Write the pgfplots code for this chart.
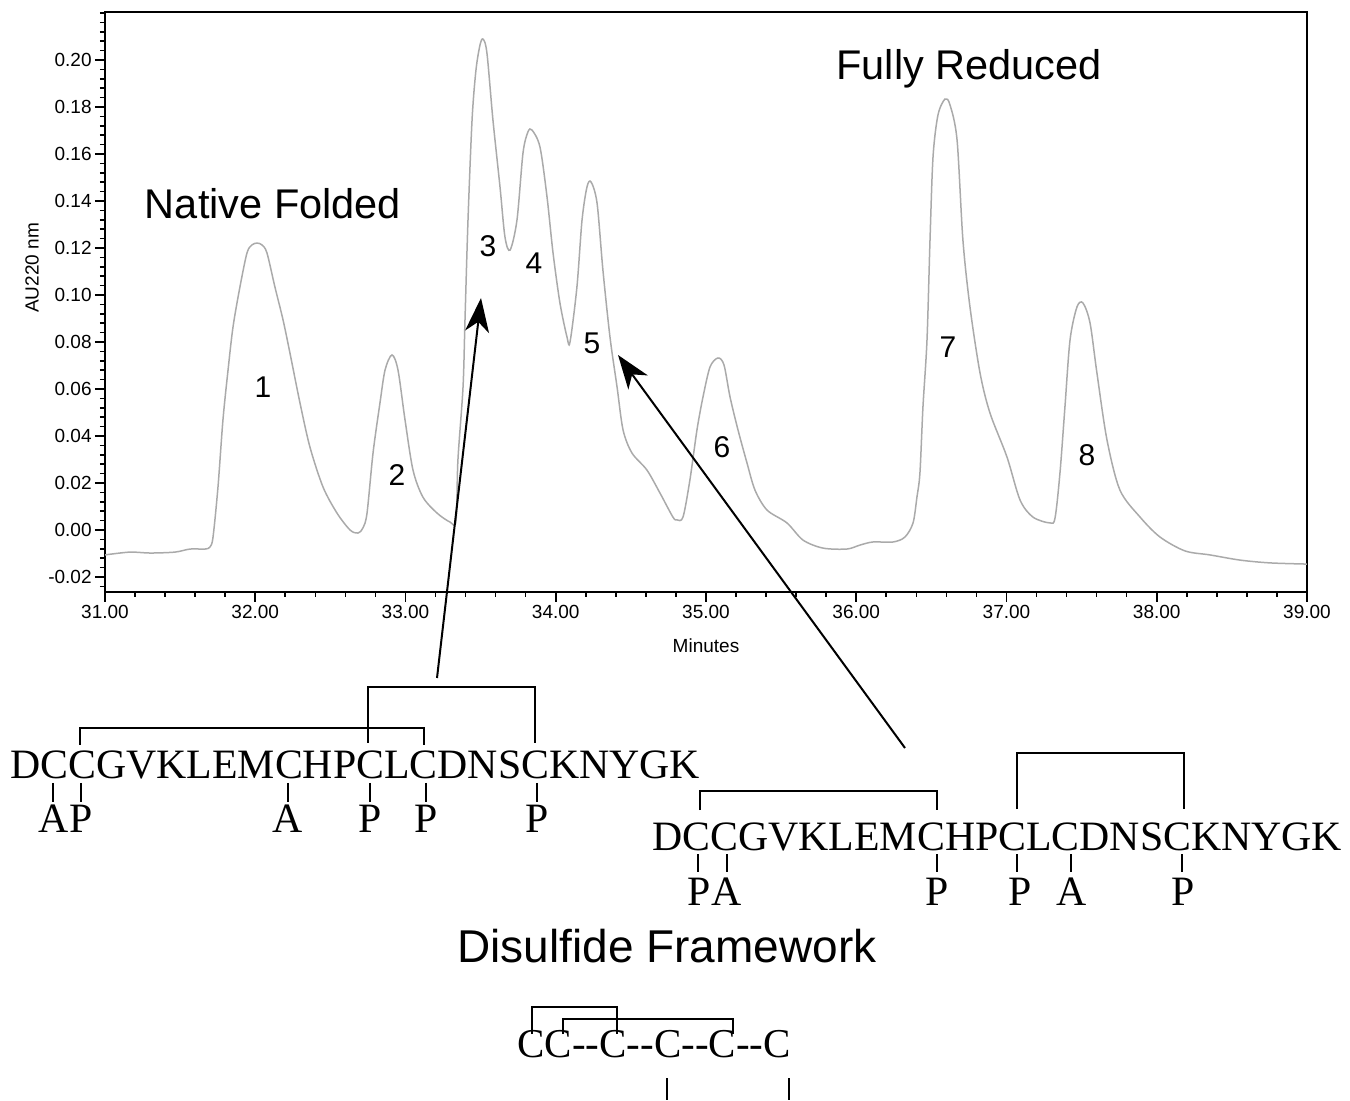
\documentclass[border=0pt]{standalone}
\usepackage{fontspec}
\setmainfont{Liberation Sans}
\newfontfamily\tms{Liberation Serif}
\usepackage{pgfplots}
\pgfplotsset{compat=1.18}
\usetikzlibrary{arrows.meta}
\definecolor{trace}{RGB}{170,170,170}

\pgfplotstableread{
t v
31.000 -0.0106
31.166 -0.0094
31.300 -0.0098
31.466 -0.0094
31.566 -0.0081
31.666 -0.0081
31.699 -0.0072
31.719 -0.0030
31.752 0.0183
31.785 0.0468
31.819 0.0681
31.852 0.0864
31.898 0.1034
31.945 0.1179
31.978 0.1213
32.012 0.1221
32.045 0.1213
32.078 0.1179
32.131 0.1034
32.185 0.0894
32.231 0.0753
32.298 0.0540
32.364 0.0353
32.451 0.0183
32.544 0.0072
32.631 0.0000
32.684 -0.0013
32.717 0.0009
32.744 0.0072
32.784 0.0328
32.830 0.0540
32.864 0.0681
32.910 0.0745
32.950 0.0681
32.997 0.0468
33.050 0.0255
33.116 0.0140
33.210 0.0072
33.296 0.0034
33.336 0.0038
33.349 0.0298
33.383 0.0609
33.396 0.0894
33.416 0.1319
33.443 0.1745
33.469 0.1957
33.496 0.2064
33.516 0.2089
33.542 0.2030
33.582 0.1745
33.629 0.1460
33.662 0.1247
33.696 0.1191
33.742 0.1319
33.782 0.1604
33.815 0.1694
33.842 0.1702
33.895 0.1630
33.942 0.1417
33.982 0.1179
34.028 0.0966
34.075 0.0821
34.095 0.0800
34.141 0.1034
34.175 0.1319
34.208 0.1460
34.235 0.1481
34.275 0.1391
34.314 0.1106
34.361 0.0821
34.408 0.0609
34.448 0.0426
34.507 0.0328
34.607 0.0255
34.694 0.0157
34.780 0.0055
34.807 0.0043
34.847 0.0055
34.893 0.0213
34.940 0.0426
34.980 0.0566
35.027 0.0694
35.080 0.0732
35.120 0.0702
35.160 0.0566
35.213 0.0426
35.273 0.0285
35.326 0.0170
35.406 0.0085
35.539 0.0030
35.646 -0.0043
35.779 -0.0077
35.938 -0.0081
36.025 -0.0064
36.111 -0.0051
36.245 -0.0051
36.324 -0.0030
36.378 0.0030
36.404 0.0140
36.424 0.0243
36.444 0.0523
36.471 0.0809
36.491 0.1234
36.511 0.1587
36.544 0.1766
36.591 0.1834
36.624 0.1809
36.671 0.1660
36.710 0.1234
36.757 0.0949
36.824 0.0668
36.890 0.0498
37.003 0.0311
37.090 0.0128
37.176 0.0055
37.289 0.0030
37.323 0.0051
37.356 0.0243
37.389 0.0523
37.423 0.0809
37.469 0.0949
37.509 0.0966
37.556 0.0881
37.602 0.0668
37.669 0.0383
37.755 0.0170
37.889 0.0055
38.022 -0.0030
38.188 -0.0089
38.354 -0.0106
38.554 -0.0128
38.754 -0.0140
39.000 -0.0145
}\chrom

\begin{document}
\begin{tikzpicture}
\begin{scope}[x=0.5pt,y=-0.5pt]
\useasboundingbox (0,0) rectangle (1350,1100);
\coordinate (sw) at (105,592);
\end{scope}
\begin{axis}[at={(sw)}, anchor=south west, scale only axis,
  width=601pt, height=290pt,
  xmin=31, xmax=39, ymin=-0.02638, ymax=0.22043,
  axis line style={line width=1pt},
  tick align=outside, xtick pos=bottom, ytick pos=left,
  xtick={31,32,33,34,35,36,37,38,39},
  xticklabels={31.00,32.00,33.00,34.00,35.00,36.00,37.00,38.00,39.00},
  minor xtick={31,31.2,...,39},
  ytick={-0.02,0,0.02,0.04,0.06,0.08,0.10,0.12,0.14,0.16,0.18,0.20},
  yticklabels={-0.02,0.00,0.02,0.04,0.06,0.08,0.10,0.12,0.14,0.16,0.18,0.20},
  minor ytick={-0.024,-0.020,...,0.2201},
  major tick length=5pt, minor tick length=2.5pt,
  every tick/.style={line width=0.8pt, black},
  ticklabel style={font=\fontsize{9.5}{11}\selectfont},
  xticklabel style={inner sep=1.5pt},
  yticklabel style={inner sep=1.5pt},
  xlabel={Minutes}, ylabel={AU220 nm},
  label style={font=\fontsize{9.5}{11}\selectfont},
  xlabel style={at={(axis description cs:0.5,-0.093)}, anchor=center},
  ylabel style={at={(axis description cs:-0.0607,0.5586)}, anchor=center},
]
\addplot[trace, line width=0.75pt, smooth, tension=0.5] table[x=t, y=v] {\chrom};
\end{axis}

\begin{scope}[x=0.5pt,y=-0.5pt]
% titles
\node[anchor=base, font=\fontsize{20.75}{24}\selectfont, inner sep=0] at (273,219) {Native Folded};
\node[anchor=base, font=\fontsize{20.75}{24}\selectfont, inner sep=0] at (969,80) {Fully Reduced};
\node[anchor=base, font=\fontsize{23}{26}\selectfont, inner sep=0] at (667,962) {Disulfide Framework};
% peak numbers
\foreach \n/\px/\py in {1/263/387, 2/397/475, 3/488/246, 4/534/263, 5/592/343, 6/722/447, 7/948/347, 8/1087/455}
  \node[font=\fontsize{15}{18}\selectfont, inner sep=0] at (\px,\py) {\n};
% arrows
\draw[line width=1pt, -{Stealth[length=17pt, width=12pt, inset=5pt]}] (437,678) -- (481,298);
\draw[line width=1pt, -{Stealth[length=17pt, width=12pt, inset=5pt]}] (905,748) -- (618,355);

% sequence 1
\node[anchor=base west, inner sep=0, font=\tms\fontsize{20.9}{24}\selectfont] at (10,778) {DCCGVKLEMCHPCLCDNSCKNYGK};
\draw[line width=0.8pt] (368,743) -- (368,687) -- (535,687) -- (535,743);
\draw[line width=0.8pt] (80,745) -- (80,728) -- (424,728) -- (424,745);
\foreach \px in {53,81,288,370,426,537} \draw[line width=0.8pt] (\px,783) -- (\px,802);
\foreach \l/\px in {A/54, P/81, A/288, P/370, P/426, P/537}
  \node[anchor=base, inner sep=0, font=\tms\fontsize{20.9}{24}\selectfont] at (\px,833) {\l};

% sequence 2
\node[anchor=base west, inner sep=0, font=\tms\fontsize{20.9}{24}\selectfont] at (652,850) {DCCGVKLEMCHPCLCDNSCKNYGK};
\draw[line width=0.8pt] (1017,809) -- (1017,753) -- (1184,753) -- (1184,809);
\draw[line width=0.8pt] (700,810) -- (700,791) -- (937,791) -- (937,810);
\foreach \px in {698,727,937,1017,1071,1182} \draw[line width=0.8pt] (\px,854) -- (\px,872);
\foreach \l/\px in {P/699, A/727, P/937, P/1020, A/1072, P/1183}
  \node[anchor=base, inner sep=0, font=\tms\fontsize{20.9}{24}\selectfont] at (\px,905) {\l};

% framework
\node[anchor=base west, inner sep=0, font=\tms\fontsize{20.5}{24}\selectfont] at (517,1057) {CC-{}-C-{}-C-{}-C-{}-C};
\draw[line width=0.8pt] (532,1034) -- (532,1007) -- (617,1007) -- (617,1034);
\draw[line width=0.8pt] (563,1034) -- (563,1019) -- (733,1019) -- (733,1034);
\draw[line width=0.8pt] (667,1078) -- (667,1100);
\draw[line width=0.8pt] (789,1078) -- (789,1100);
\end{scope}
\end{tikzpicture}
\end{document}
